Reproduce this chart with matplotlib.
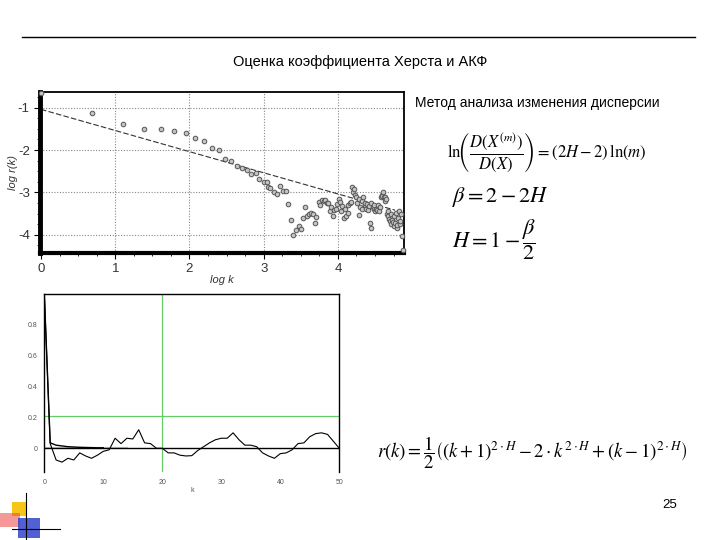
import numpy as np
import matplotlib.pyplot as plt
from matplotlib.patches import Rectangle
from matplotlib.lines import Line2D
from matplotlib.ticker import MultipleLocator

plt.rcParams['font.family'] = ['Liberation Sans', 'DejaVu Sans']
plt.rcParams['mathtext.fontset'] = 'stix'

# --- верхний график: log r(k) от log k ---
log_k = [0.00, 0.69, 1.10, 1.39, 1.61, 1.79, 1.95, 2.08, 2.20, 2.30, 2.40, 2.48, 2.56, 2.64,
         2.71, 2.77, 2.83, 2.89, 2.94, 3.00, 3.04, 3.06, 3.09, 3.14, 3.18, 3.22, 3.26, 3.30,
         3.33, 3.37, 3.40, 3.43, 3.47, 3.50, 3.53, 3.56, 3.58, 3.61, 3.64, 3.66, 3.69, 3.71,
         3.74, 3.76, 3.78, 3.81, 3.83, 3.85, 3.87, 3.89, 3.91, 3.93, 3.95, 3.97, 3.99, 4.01,
         4.03, 4.04, 4.06, 4.08, 4.09, 4.11, 4.13, 4.14, 4.16, 4.17, 4.19, 4.20, 4.22, 4.23,
         4.25, 4.26, 4.28, 4.29, 4.30, 4.32, 4.33, 4.34, 4.36, 4.37, 4.38, 4.39, 4.41, 4.42,
         4.43, 4.44, 4.45, 4.47, 4.48, 4.49, 4.50, 4.51, 4.53, 4.54, 4.55, 4.56, 4.58, 4.59,
         4.60, 4.61, 4.62, 4.63, 4.64, 4.65, 4.66, 4.67, 4.68, 4.69, 4.70, 4.71, 4.72, 4.73,
         4.74, 4.75, 4.76, 4.77, 4.78, 4.79, 4.80, 4.81, 4.82, 4.83, 4.84, 4.85, 4.86, 4.87]
log_r = [-0.66, -1.13, -1.39, -1.50, -1.50, -1.55, -1.59, -1.72, -1.79, -1.96, -2.01, -2.20,
         -2.26, -2.38, -2.42, -2.47, -2.57, -2.55, -2.69, -2.76, -2.75, -2.88, -2.89, -3.00,
         -3.04, -2.85, -2.97, -2.96, -3.28, -3.65, -4.00, -3.89, -3.80, -3.86, -3.60, -3.35,
         -3.55, -3.52, -3.48, -3.50, -3.73, -3.58, -3.22, -3.30, -3.18, -3.20, -3.18, -3.24,
         -3.25, -3.45, -3.35, -3.55, -3.42, -3.38, -3.28, -3.15, -3.22, -3.45, -3.32, -3.60,
         -3.40, -3.55, -3.48, -3.30, -3.25, -3.22, -2.87, -3.00, -2.92, -3.05, -3.10, -3.25,
         -3.53, -3.15, -3.35, -3.20, -3.40, -3.12, -3.30, -3.25, -3.38, -3.28, -3.42, -3.32,
         -3.72, -3.25, -3.85, -3.35, -3.40, -3.30, -3.45, -3.38, -3.42, -3.30, -3.45, -3.35,
         -3.10, -3.05, -3.08, -3.00, -3.12, -3.10, -3.20, -3.15, -3.50, -3.45, -3.55, -3.62,
         -3.68, -3.50, -3.75, -3.65, -3.70, -3.80, -3.55, -3.72, -3.48, -3.85, -3.78, -3.60,
         -3.45, -3.75, -3.68, -3.52, -4.03, -4.36]
fit_x = [0.0, 4.77]
fit_y = [-1.04, -3.42]

# --- нижний график: АКФ ---
lag = list(range(51))
acf = [1.0, 0.03, -0.076, -0.09, -0.065, -0.076, -0.03, -0.05, -0.065, -0.045, -0.02,
       -0.01, 0.065, 0.03, 0.065, 0.06, 0.12, 0.035, 0.03, 0.0, 0.0, -0.03, -0.03, -0.045,
       -0.05, -0.048, -0.015, 0.01, 0.035, 0.055, 0.065, 0.065, 0.10, 0.055, 0.02, 0.02,
       0.01, -0.03, -0.05, -0.065, -0.035, -0.03, -0.01, 0.03, 0.035, 0.075, 0.095, 0.10,
       0.09, 0.045, 0.0]
theo_lag = list(range(11))
theo_acf = [1.0, 0.035, 0.02, 0.015, 0.01, 0.008, 0.006, 0.005, 0.004, 0.003, 0.003]
level = 0.21
mark_lag = 20

fig = plt.figure(figsize=(7.2, 5.4), dpi=100)
W, Hh = 720, 540

def box(l, t, r, b):
    return [l / W, 1 - b / Hh, (r - l) / W, (b - t) / Hh]

# рамка слайда
fig.add_artist(Line2D([22 / W, 695 / W], [1 - 37 / Hh] * 2, color='black', lw=1.0))
fig.text(360 / W, 1 - 62 / Hh, 'Оценка коэффициента Херста и АКФ', ha='center', va='center',
         fontsize=10.5)
fig.text(415 / W, 1 - 103 / Hh, 'Метод анализа изменения дисперсии', ha='left', va='center',
         fontsize=10)

# верхний график
ax1 = fig.add_axes(box(39.5, 92, 404, 253))
ax1.scatter(log_k, log_r, s=11, facecolor='#c4c4c4', edgecolor='#555555', linewidth=0.7,
            zorder=3, clip_on=False)
ax1.plot(fit_x, fit_y, color='#333333', lw=0.8, ls=(0, (5, 2)), zorder=2)
ax1.set_xlim(-0.02, 4.89)
ax1.set_ylim(-4.43, -0.63)
ax1.set_xticks([0, 1, 2, 3, 4])
ax1.set_yticks([-1, -2, -3, -4])
ax1.set_xticklabels(['0', '1', '2', '3', '4'])
ax1.set_yticklabels(['-1', '-2', '-3', '-4'])
ax1.xaxis.set_minor_locator(MultipleLocator(0.25))
ax1.yaxis.set_minor_locator(MultipleLocator(0.25))
ax1.grid(True, which='major', ls=(0, (1, 1.5)), color='#888888', lw=0.8)
ax1.tick_params(which='major', length=4, width=0.8, labelsize=9.5, labelcolor='#333333', pad=3)
ax1.tick_params(which='minor', length=2.5, width=0.6)
ax1.spines['left'].set_linewidth(3.5)
ax1.spines['bottom'].set_linewidth(3.0)
ax1.spines['top'].set_linewidth(1.3)
ax1.spines['right'].set_linewidth(1.3)
ax1.set_xlabel('log k', fontstyle='italic', fontsize=8, color='#333333', labelpad=0)
ax1.set_ylabel('log r(k)', fontstyle='italic', fontsize=8, color='#333333', labelpad=0)

# нижний график
ax2 = fig.add_axes(box(44.3, 294, 339.3, 471.7))
ax2.plot(lag, acf, color='black', lw=0.8, zorder=3)
ax2.plot(theo_lag, theo_acf, color='black', lw=1.0, zorder=3)
ax2.axhline(0, color='black', lw=1.0, zorder=2)
ax2.axhline(level, color='#66cc66', lw=0.9, zorder=1)
ax2.axvline(mark_lag, color='#66cc66', lw=0.9, zorder=1)
ax2.plot([0, 14], [0.008, 0.008], color='#aaddaa', lw=0.9, zorder=1)
ax2.set_xlim(0, 50)
ax2.set_ylim(-0.152, 1.0)
ax2.set_xticks([0, 10, 20, 30, 40, 50])
ax2.set_yticks([0, 0.2, 0.4, 0.6, 0.8])
ax2.set_yticklabels(['0', '0.2', '0.4', '0.6', '0.8'])
ax2.tick_params(length=0, labelsize=5, labelcolor='#555555', pad=5)
ax2.spines['bottom'].set_visible(False)
for s in ['left', 'right', 'top']:
    ax2.spines[s].set_linewidth(1.0)
ax2.set_xlabel('k', fontsize=5, color='#555555', labelpad=1)

# формулы
fig.text(447 / W, 1 - 152 / Hh,
         r'$\mathrm{ln}\!\left(\dfrac{D(X^{(m)})}{D(X)}\right)=(2H-2)\,\mathrm{ln}(m)$',
         ha='left', va='center', fontsize=12)
fig.text(452 / W, 1 - 197 / Hh, r'$\beta=2-2H$', ha='left', va='center', fontsize=16)
fig.text(452 / W, 1 - 240 / Hh, r'$H=1-\dfrac{\beta}{2}$', ha='left', va='center', fontsize=16)
fig.text(377 / W, 1 - 453 / Hh,
         r'$r(k)=\dfrac{1}{2}\left((k+1)^{2\cdot H}-2\cdot k^{2\cdot H}+(k-1)^{2\cdot H}\right)$',
         ha='left', va='center', fontsize=13.5)
fig.text(670 / W, 1 - 505 / Hh, '25', ha='center', va='center', fontsize=9.5)

# логотип
def rect(l, t, r, b, c, a=1.0):
    fig.add_artist(Rectangle((l / W, 1 - b / Hh), (r - l) / W, (b - t) / Hh, color=c,
                             alpha=a, lw=0, transform=fig.transFigure))

rect(12, 502, 26, 516, '#f5c518')
rect(0, 513, 20, 527, '#ee4444', 0.55)
rect(18, 518, 40, 538, '#3344cc', 0.85)
fig.add_artist(Line2D([26 / W] * 2, [1 - 493 / Hh, 0], color='black', lw=0.8))
fig.add_artist(Line2D([12 / W, 60 / W], [1 - 529 / Hh] * 2, color='black', lw=0.8))

fig.savefig('out.png', dpi=100)
